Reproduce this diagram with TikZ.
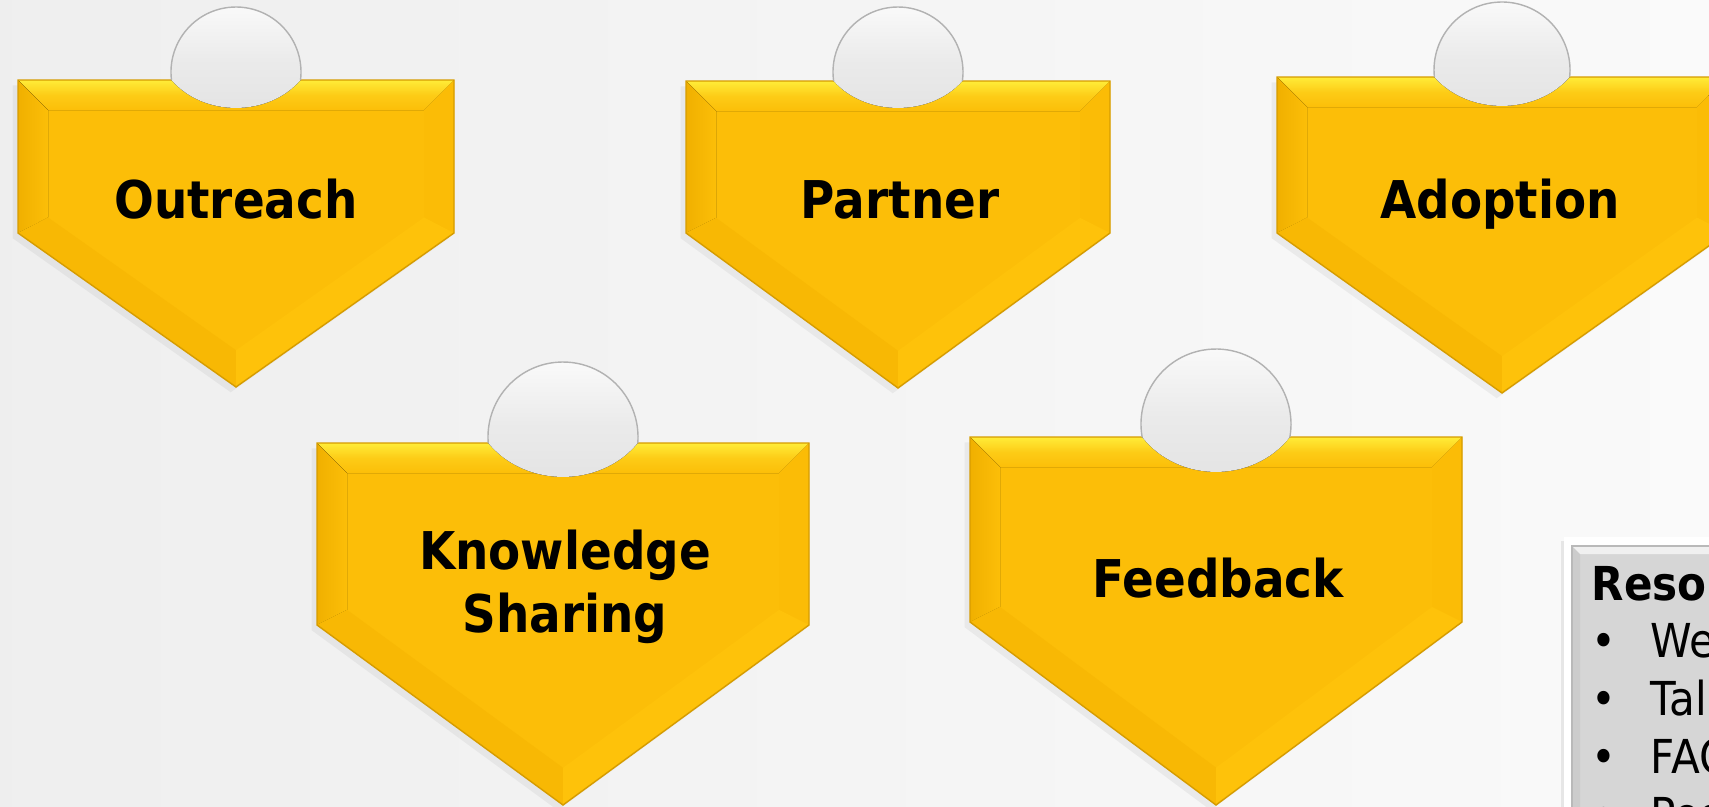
\documentclass[tikz,border=0pt]{standalone}
\usepackage{fontspec}
\newfontfamily\tabfont[FakeStretch=0.9]{DejaVu Sans}
\usetikzlibrary{shadows}

\definecolor{tabgold}{RGB}{252,190,8}
\definecolor{tabtop}{RGB}{255,236,56}
\definecolor{tableft}{RGB}{240,176,0}
\definecolor{tabright}{RGB}{251,188,6}
\definecolor{tablow}{RGB}{248,184,4}
\definecolor{tablowr}{RGB}{254,194,10}
\definecolor{tabedge}{RGB}{214,156,0}
\definecolor{resgrey}{RGB}{214,214,214}

\begin{document}
\begin{tikzpicture}[x=0.01cm,y=-0.01cm,
  tabface/.style={fill=tabgold, drop shadow={opacity=0.1, shadow xshift=-1.5pt, shadow yshift=-1.5pt}},
  knob/.style={top color=gray!4, bottom color=gray!22, middle color=gray!16},
  tablabel/.style={font=\tabfont\bfseries\fontsize{14.8pt}{17.9pt}\selectfont, inner sep=0pt, align=center},
  restext/.style={font=\tabfont\fontsize{13.3pt}{16.5pt}\selectfont, inner sep=0pt, anchor=base west}]
	\useasboundingbox (0,0) rectangle (1709,806);
	\fill[left color=gray!13, right color=gray!4] (0,0) rectangle (1709,806);
	% the five tabs
	\foreach \xc/\yt/\hw/\hv/\hs/\rr/\yc/\dd/\nm in {
		236/80/218/153/154/65/72/28/outreach,
		898/81/212/152/155/65/72/27/partner,
		1502/77/225/156/160/68/70/29/adoption,
		563/443/246/182/180/75/437/34/sharing,
		1216/437/246/185/183/75/424/35/feedback}{
		\pgfmathsetmacro\m{\hs/\hw}
		\pgfmathsetmacro\q{sqrt(1+\m*\m)}
		\pgfmathsetmacro\yi{\yt+\hv+30*\m-30*\q}
		\pgfmathsetmacro\yb{\yt+\hv+\hs-30*\q}
		\pgfmathsetmacro\ang{asin((\yt-\yc)/\rr)}
		\pgfmathsetmacro\xl{\xc-\rr*cos(\ang)}
		\coordinate (\nm-tl) at (\xc-\hw,\yt);
		\coordinate (\nm-tr) at (\xc+\hw,\yt);
		\coordinate (\nm-r) at (\xc+\hw,\yt+\hv);
		\coordinate (\nm-b) at (\xc,\yt+\hv+\hs);
		\coordinate (\nm-l) at (\xc-\hw,\yt+\hv);
		\coordinate (\nm-itl) at (\xc-\hw+30,\yt+30);
		\coordinate (\nm-itr) at (\xc+\hw-30,\yt+30);
		\coordinate (\nm-ir) at (\xc+\hw-30,\yi);
		\coordinate (\nm-ib) at (\xc,\yb);
		\coordinate (\nm-il) at (\xc-\hw+30,\yi);
		\fill[tabface] (\nm-tl) -- (\nm-tr) -- (\nm-r) -- (\nm-b) -- (\nm-l) -- cycle;
		\fill[top color=tabtop, bottom color=tabgold, middle color=tabgold!70!tabtop] (\nm-tl) -- (\nm-tr) -- (\nm-itr) -- (\nm-itl) -- cycle;
		\fill[left color=tableft, right color=tabgold] (\nm-tl) -- (\nm-itl) -- (\nm-il) -- (\nm-l) -- cycle;
		\fill[tabright] (\nm-tr) -- (\nm-r) -- (\nm-ir) -- (\nm-itr) -- cycle;
		\fill[tablow] (\nm-l) -- (\nm-il) -- (\nm-ib) -- (\nm-b) -- cycle;
		\fill[tablowr] (\nm-b) -- (\nm-ib) -- (\nm-ir) -- (\nm-r) -- cycle;
		\draw[tabedge, line width=0.4pt] (\nm-tl) -- (\nm-tr) -- (\nm-r) -- (\nm-b) -- (\nm-l) -- cycle;
		% grey knob on the top edge
		\fill[knob] (\xl,\yt) arc[start angle=180-\ang, end angle=360+\ang, radius=\rr]
			.. controls (\xc+0.5*\rr,\yt+1.33*\dd) and (\xc-0.5*\rr,\yt+1.33*\dd) .. (\xl,\yt) -- cycle;
		\draw[gray!60, line width=0.4pt] (\xl,\yt) arc[start angle=180-\ang, end angle=360+\ang, radius=\rr];
	}
	\node[tablabel, anchor=base] (outreach-txt) at (236,218) {Outreach};
	\node[tablabel, anchor=base] (partner-txt) at (900,218) {Partner};
	\node[tablabel, anchor=base] (adoption-txt) at (1500,218) {Adoption};
	\node[tablabel] (sharing-txt) at (565,587) {Knowledge\\Sharing};
	\node[tablabel, anchor=base] (feedback-txt) at (1218,597) {Feedback};
	% resources box, cut by the right edge
	\fill[white, drop shadow={opacity=0.15, shadow xshift=-1pt, shadow yshift=-1pt}] (1564,537) rectangle (1760,860);
	\fill[resgrey] (1572,546) rectangle (1760,860);
	\fill[gray!40] (1572,546) -- (1580,554) -- (1580,860) -- (1572,860) -- cycle;
	\fill[gray!12] (1572,546) -- (1760,546) -- (1760,554) -- (1580,554) -- cycle;
	\draw[gray!55, line width=0.3pt] (1760,546) -- (1572,546) -- (1572,860);
	\node[restext, font=\tabfont\bfseries\fontsize{13.3pt}{16.5pt}\selectfont] (restitle) at (1591,600) {Resources};
	\foreach \entry [count=\i] in {Website,Talks,FAQ,Posters}{
		\node[restext] (dot\i) at (1591,599+58*\i) {•};
		\node[restext] (entry\i) at (1650,599+58*\i) {\entry};
	}
\end{tikzpicture}
\end{document}
